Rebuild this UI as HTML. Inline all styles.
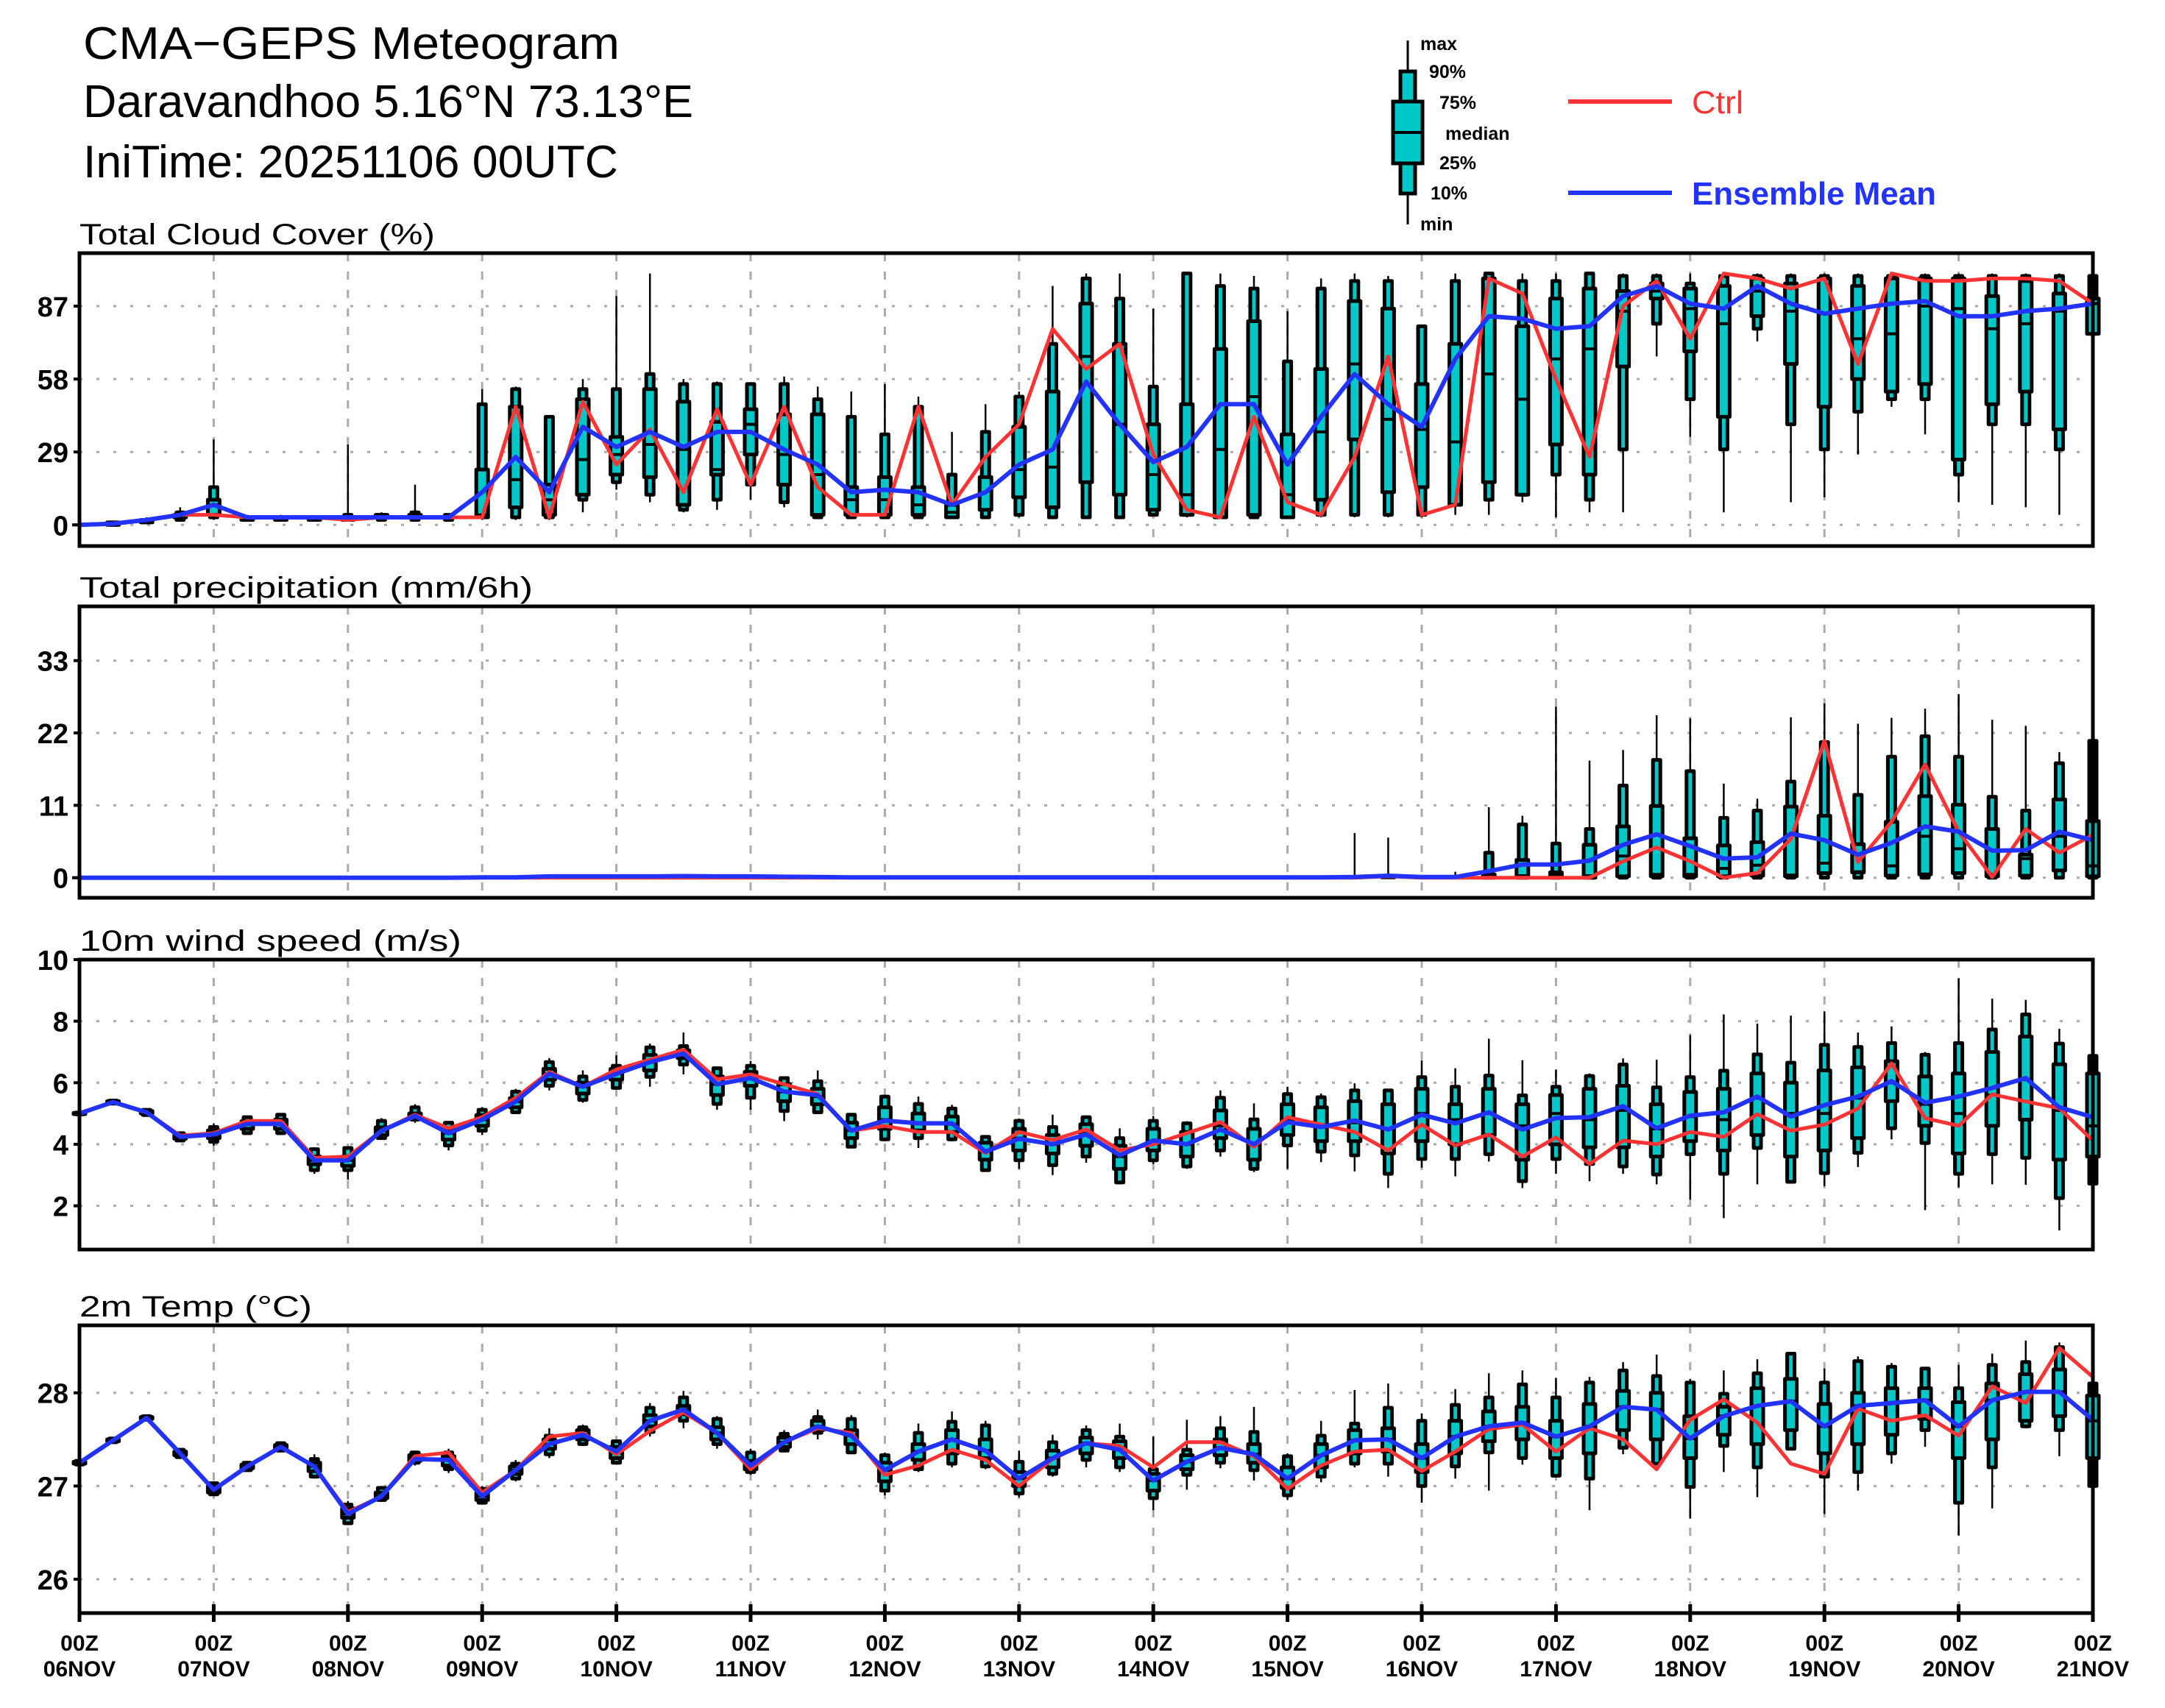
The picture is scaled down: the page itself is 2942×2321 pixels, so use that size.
<!DOCTYPE html>
<html><head><meta charset="utf-8"><title>CMA-GEPS Meteogram</title>
<style>html,body{margin:0;padding:0;background:#fff}svg{display:block}text{font-family:"Liberation Sans",sans-serif}</style>
</head><body>
<svg id="chart" xmlns="http://www.w3.org/2000/svg" width="2942" height="2321" viewBox="0 0 2942 2321">
<rect x="0" y="0" width="2942" height="2321" fill="#fff"/>
<g>
<text x="113" y="80" font-size="62" textLength="729" lengthAdjust="spacingAndGlyphs">CMA−GEPS Meteogram</text>
<text x="113" y="159" font-size="62" textLength="829" lengthAdjust="spacingAndGlyphs">Daravandhoo 5.16°N 73.13°E</text>
<text x="113" y="241" font-size="62" textLength="727" lengthAdjust="spacingAndGlyphs">IniTime: 20251106 00UTC</text>
</g>
<g>
<line x1="1913" y1="55" x2="1913" y2="305" stroke="#000" stroke-width="3"/>
<rect x="1903" y="97" width="20" height="166" fill="#00C8C8" stroke="#000" stroke-width="5"/>
<rect x="1893" y="138" width="40" height="84" fill="#00C8C8" stroke="#000" stroke-width="5"/>
<line x1="1891" y1="180" x2="1935" y2="180" stroke="#000" stroke-width="4"/>
<g font-size="25" font-weight="bold">
<text x="1930" y="68">max</text>
<text x="1942" y="106">90%</text>
<text x="1956" y="148">75%</text>
<text x="1964" y="190">median</text>
<text x="1956" y="230">25%</text>
<text x="1944" y="271">10%</text>
<text x="1930" y="313">min</text>
</g>
<line x1="2131" y1="138" x2="2272" y2="138" stroke="#FF3333" stroke-width="6"/>
<text x="2299" y="154" font-size="44" fill="#FF3333" textLength="70" lengthAdjust="spacingAndGlyphs">Ctrl</text>
<line x1="2131" y1="262" x2="2272" y2="262" stroke="#2233FF" stroke-width="6"/>
<text x="2299" y="278" font-size="44" font-weight="bold" fill="#2233FF" textLength="332" lengthAdjust="spacingAndGlyphs">Ensemble Mean</text>
</g>
<g id="panels"></g>
<g id="xlabels"></g>
</svg>
<script>
const NS = "http://www.w3.org/2000/svg";
const dayLabels = ["06NOV","07NOV","08NOV","09NOV","10NOV","11NOV","12NOV","13NOV","14NOV","15NOV","16NOV","17NOV","18NOV","19NOV","20NOV","21NOV"];
const cloudTicks = [0,29,58,87];
const precipTicks = [0,11,22,33];
const windTicks = [2,4,6,8,10];
const tempTicks = [26,27,28];

// box rows: [min,p10,p25,median,p75,p90,max]
const cloudBox = [
[0,0,0,0,0,0,0.5],[0,0,0,0.5,1,1,1],[1,1,1,1.5,2,2,3],[2,2,3,3,4,5,7],[2,3,4,8,10,15,34],
[2,2,2,3,3,3,4],[2,2,2,3,3,3,4],[2,2,2,2,3,3,3],[2,2,2,3,3,4,32],[2,2,3,3,4,4,5],
[2,2,3,3,4,5,16],[2,2,3,3,3,4,4],[2,3,3,4,22,48,54],[2,3,7,18,47,54,55],[2,3,4,10,16,43,43],
[5,10,12,26,50,54,58],[14,17,20,28,35,54,91],[9,12,19,32,54,60,100],[5,6,8,30,49,56,58],[6,10,20,22,41,56,57],
[10,16,28,40,46,56,56],[7,9,16,28,44,56,59],[3,3,4,20,44,50,55],[3,3,4,10,15,43,53],[3,3,4,10,19,36,56],
[3,3,4,8,15,47,51],[3,3,3,5,8,20,37],[3,3,6,6,19,37,48],[3,4,11,22,39,51,53],[3,3,7,23,53,72,95],
[3,3,17,67,88,98,100],[3,3,12,40,72,90,100],[4,4,6,20,40,55,86],[3,4,4,12,48,100,100],[3,3,3,30,70,95,100],
[3,3,4,51,81,94,99],[3,3,3,12,36,65,85],[3,4,10,37,62,94,98],[3,4,34,64,89,97,100],[3,4,13,42,86,97,99],
[3,4,15,38,56,79,79],[4,8,8,33,72,97,100],[4,10,17,60,98,100,100],[9,12,12,50,79,97,100],[3,20,32,66,90,97,100],
[5,10,20,70,94,100,100],[5,30,63,85,93,99,100],[67,80,90,93,96,99,100],[35,50,69,86,94,96,100],[5,30,43,80,95,99,100],
[73,78,83,93,98,99,100],[9,40,64,85,96,99,100],[11,30,47,84,98,99,100],[28,45,58,74,95,99,100],[47,50,53,76,98,99,100],
[36,50,56,87,98,99,100],[9,20,26,86,98,99,100],[8,40,48,78,91,99,100],[7,40,53,80,97,99,100],[4,30,38,85,92,99,100],
[70,76,76,88,90,99,100]];
const cloudCtrl = [0,0.5,2,4,4,3,3,3,2,3,3,3,3,47,3,49,24,38,13,46,16,47,15,4,4,47,8,27,40,78,62,72,28,6,3,43,9,4,27,67,4,8,98,92,58,27,87,97,74,100,98,94,98,64,100,97,97,98,98,97,88];
const cloudMean = [0,0.5,2,4,8,3,3,3,3,3,3,3,13,27,13,39,31,37,31,37,37,30,24,13,14,13,8,13,24,30,57,40,25,31,48,48,24,43,60,48,39,66,83,82,78,79,91,95,88,86,95,88,84,86,88,89,83,83,85,86,88];

const Z = [0,0,0,0,0,0,0];
const precipBox = [
Z,Z,Z,Z,Z,Z,Z,Z,Z,Z,Z,Z,Z,Z,Z,Z,Z,Z,Z,Z,Z,Z,Z,Z,Z,Z,Z,Z,Z,Z,Z,Z,Z,Z,Z,Z,Z,Z,
[0,0,0,0,0,0,6.8],[0,0,0,0,0,0,6.1],[0,0,0,0,0,0,0],[0,0,0,0,0,0,0.9],[0,0,0,0,0.5,3.8,10.7],
[0,0,0,0.3,2.7,8.1,9.4],[0,0,0,0.3,0.8,5.2,26],[0,0,0,0.3,5.0,7.4,17.8],[0,0,0.2,3.3,7.8,14,19.4],[0,0,0.2,0.5,10.9,17.9,24.7],
[0,0,0.2,0.5,6.0,16.2,24.2],[0,0,0.2,1.4,4.9,9.1,14.3],[0,0,0.3,1.9,5.4,10.2,12],[0,0,0.2,0.4,10.8,14.6,24.4],[0,0,0.7,2.2,9.4,20.6,26.5],
[0,0,0.8,0.9,5.1,12.6,23.4],[0,0,0.3,1.8,8.5,18.4,24.3],[0,0,0.5,6.3,12.4,21.5,25.7],[0,0,0.7,4.4,11.1,18.4,27.9],[0,0,0.2,0.5,7.4,12.3,24],
[0,0,0.3,2.9,3.5,10.2,23.1],[0,0,1.1,6.3,11.9,17.4,19.1],[0,0,0.2,1.8,8.6,20.8,20.8]];
const precipCtrl = [0,0,0,0,0,0,0,0,0,0,0,0,0,0,0,0,0,0,0,0,0,0,0,0,0,0,0,0,0,0,0,0,0,0,0,0,0,0,0,0.2,0,0,0,0,0,0,2.5,4.6,2.5,0,0.7,5.9,20.8,2.4,8.5,17.2,7,0.1,7.4,3.8,6.5];
const precipMean = [0,0,0,0,0,0,0,0,0,0,0,0,0.05,0.05,0.2,0.2,0.2,0.2,0.25,0.2,0.2,0.15,0.1,0.05,0.05,0.05,0.05,0.05,0.05,0.05,0.05,0.05,0.05,0.05,0.05,0.05,0.05,0.05,0.1,0.3,0.1,0.1,1.0,2.0,2.0,2.6,5.0,6.6,4.8,2.9,3.1,6.7,5.7,3.5,5.3,7.8,7,4.1,4.2,7,5.7];

const windBox = [
[4.95,4.97,4.98,5.0,5.02,5.03,5.05],[5.3,5.32,5.34,5.37,5.4,5.42,5.45],[4.9,4.95,5.0,5.04,5.08,5.12,5.15],[4.1,4.12,4.18,4.24,4.3,4.36,4.4],[3.96,4.08,4.2,4.32,4.45,4.56,4.68],
[4.35,4.36,4.5,4.66,4.75,4.88,4.9],[4.3,4.36,4.5,4.66,4.8,4.96,5.0],[3.04,3.16,3.35,3.48,3.6,3.84,3.9],[2.85,3.16,3.3,3.48,3.6,3.88,3.9],[4.15,4.2,4.3,4.44,4.55,4.76,4.85],
[4.7,4.8,4.85,4.92,5.0,5.2,5.3],[3.8,3.96,4.15,4.36,4.5,4.7,4.75],[4.3,4.44,4.6,4.8,4.95,5.12,5.2],[5.0,5.04,5.2,5.39,5.5,5.71,5.8],[5.75,5.9,6.1,6.29,6.45,6.67,6.8],
[5.35,5.44,5.65,5.87,6.0,6.2,6.4],[5.8,5.83,6.1,6.3,6.45,6.55,6.89],[5.87,6.19,6.4,6.67,6.9,7.15,7.27],[6.27,6.59,6.8,6.95,7.05,7.19,7.63],[5.12,5.31,5.6,5.95,6.2,6.47,6.5],
[5.12,5.51,5.9,6.15,6.35,6.55,6.71],[4.75,5.08,5.4,5.7,5.95,6.15,6.2],[5.0,5.04,5.3,5.55,5.8,6.05,6.4],[3.9,3.92,4.2,4.45,4.7,4.96,5.0],[4.1,4.16,4.5,4.8,5.2,5.55,5.6],
[3.88,4.2,4.45,4.7,5.0,5.31,5.55],[4.1,4.16,4.4,4.65,4.9,5.16,5.28],[3.1,3.16,3.5,3.8,4.05,4.24,4.3],[3.2,3.48,3.8,4.2,4.5,4.76,4.84],[3.0,3.32,3.7,4.0,4.3,4.56,4.96],
[3.4,3.6,3.95,4.35,4.65,4.88,4.9],[2.7,2.76,3.2,3.6,3.95,4.2,4.52],[3.36,3.48,3.8,4.1,4.5,4.76,4.92],[3.2,3.28,3.6,4.0,4.4,4.68,4.75],[3.6,3.8,4.2,4.6,5.1,5.51,5.75],
[3.1,3.2,3.5,4.0,4.5,4.81,5.33],[3.2,3.96,4.3,4.8,5.3,5.63,5.87],[3.42,3.76,4.1,4.6,5.2,5.53,5.65],[3.12,3.64,4.1,4.7,5.4,5.75,5.98],[2.58,3.04,3.7,4.5,5.3,5.75,5.8],
[3.24,3.52,4.1,5.0,5.8,6.18,6.73],[2.96,3.52,4.0,4.8,5.3,5.87,6.47],[3.44,3.68,4.3,5.0,5.8,6.23,7.43],[2.58,2.8,3.5,4.6,5.3,5.59,6.73],[3.04,3.52,4.0,5.0,5.6,5.87,6.43],
[2.8,3.36,3.9,4.8,5.8,6.22,6.3],[3.04,3.28,3.9,5.1,5.9,6.59,6.79],[2.7,3.02,3.6,4.5,5.3,5.85,6.75],[2.2,3.68,4.1,4.9,5.7,6.18,7.55],[1.6,3.04,3.8,4.8,5.8,6.39,8.22],
[2.7,3.88,4.3,5.5,6.3,6.92,7.92],[2.74,2.78,3.6,5.0,6.0,6.65,8.18],[2.64,3.06,3.8,5.0,6.4,7.23,8.32],[3.26,3.72,4.2,5.5,6.5,7.16,7.63],[4.16,4.52,5.4,6.0,6.7,7.29,7.83],
[1.86,4.04,4.6,5.3,6.2,6.91,7.0],[2.6,3.04,3.7,5.0,6.3,7.29,9.39],[2.7,3.68,4.6,5.6,7.0,7.73,8.73],[2.68,3.56,4.8,6.1,7.5,8.22,8.69],[1.2,2.25,3.5,5.1,6.6,7.27,7.75],
[2.7,2.72,3.6,4.6,6.3,6.87,6.9]];
const windCtrl = [5.0,5.37,5.04,4.28,4.36,4.76,4.76,3.56,3.6,4.44,4.96,4.52,4.88,5.51,6.35,5.87,6.43,6.75,7.07,6.11,6.27,5.95,5.63,4.44,4.6,4.4,4.4,3.72,4.4,4.14,4.48,3.8,4.0,4.36,4.72,3.92,4.88,4.64,4.4,3.8,4.64,3.96,4.32,3.6,4.22,3.36,4.12,4.0,4.4,4.24,4.98,4.44,4.64,5.16,6.63,4.85,4.6,5.62,5.39,5.17,4.12];
const windMean = [5.0,5.37,5.04,4.24,4.32,4.66,4.66,3.48,3.48,4.44,4.92,4.36,4.8,5.39,6.29,5.87,6.29,6.67,6.95,5.95,6.15,5.71,5.59,4.44,4.77,4.68,4.68,3.76,4.18,4.0,4.32,3.64,4.12,4.0,4.48,4.0,4.72,4.56,4.77,4.48,4.96,4.68,5.04,4.48,4.85,4.88,5.24,4.52,4.93,5.04,5.55,4.9,5.27,5.55,6.05,5.35,5.55,5.83,6.15,5.2,4.88];

const tempBox = [
[27.22,27.23,27.24,27.25,27.26,27.27,27.28],[27.46,27.47,27.48,27.49,27.5,27.51,27.52],[27.7,27.71,27.72,27.73,27.74,27.75,27.76],[27.3,27.31,27.33,27.35,27.37,27.39,27.4],[26.9,26.91,26.93,26.96,27.0,27.03,27.05],
[27.16,27.17,27.19,27.21,27.23,27.25,27.27],[27.37,27.38,27.4,27.42,27.44,27.46,27.48],[27.08,27.1,27.16,27.21,27.25,27.29,27.34],[26.58,26.6,26.66,26.7,26.76,26.8,26.84],[26.83,26.85,26.87,26.89,26.93,26.98,27.0],
[27.22,27.25,27.27,27.3,27.33,27.36,27.38],[27.14,27.18,27.22,27.28,27.32,27.36,27.4],[26.8,26.82,26.85,26.89,26.93,26.97,27.0],[27.05,27.08,27.13,27.17,27.21,27.24,27.28],[27.3,27.34,27.4,27.45,27.5,27.54,27.62],
[27.43,27.45,27.5,27.55,27.6,27.63,27.66],[27.23,27.25,27.3,27.37,27.42,27.48,27.5],[27.53,27.58,27.64,27.7,27.76,27.84,27.89],[27.62,27.7,27.77,27.82,27.86,27.95,28.02],[27.4,27.45,27.5,27.57,27.63,27.72,27.75],
[27.12,27.15,27.18,27.22,27.27,27.36,27.4],[27.37,27.38,27.42,27.47,27.52,27.56,27.6],[27.5,27.57,27.6,27.64,27.7,27.74,27.82],[27.35,27.36,27.45,27.54,27.6,27.72,27.76],[26.9,26.95,27.05,27.17,27.25,27.33,27.36],
[27.15,27.18,27.28,27.37,27.45,27.57,27.67],[27.2,27.24,27.35,27.5,27.6,27.69,27.8],[27.18,27.21,27.3,27.38,27.5,27.65,27.7],[26.88,26.92,27.0,27.08,27.15,27.26,27.38],[27.1,27.13,27.2,27.3,27.38,27.47,27.55],
[27.2,27.28,27.35,27.46,27.52,27.6,27.65],[27.15,27.2,27.3,27.39,27.48,27.53,27.67],[26.74,26.87,26.95,27.06,27.13,27.18,27.53],[26.96,27.12,27.18,27.26,27.33,27.39,27.71],[27.19,27.25,27.33,27.41,27.5,27.62,27.75],
[27.06,27.17,27.25,27.34,27.45,27.58,27.85],[26.85,26.9,26.98,27.08,27.2,27.32,27.35],[27.04,27.1,27.2,27.33,27.45,27.54,27.7],[27.2,27.24,27.35,27.49,27.6,27.67,28.03],[27.1,27.24,27.37,27.5,27.62,27.84,28.1],
[26.82,27.0,27.15,27.3,27.45,27.7,27.78],[27.08,27.21,27.35,27.53,27.7,27.87,28.04],[26.95,27.36,27.48,27.64,27.8,27.95,28.21],[27.23,27.3,27.5,27.68,27.85,28.09,28.24],[27.1,27.11,27.3,27.53,27.7,27.95,28.16],
[26.74,27.08,27.35,27.64,27.88,28.11,28.17],[27.34,27.41,27.6,27.85,28.02,28.24,28.33],[27.24,27.24,27.5,27.82,28.0,28.18,28.41],[26.65,26.99,27.3,27.51,27.75,28.11,28.15],[27.15,27.43,27.55,27.75,27.85,27.99,28.24],
[26.88,27.2,27.45,27.86,28.05,28.21,28.36],[27.4,27.4,27.6,27.91,28.15,28.42,28.42],[26.7,27.1,27.35,27.64,27.88,28.11,28.26],[26.95,27.15,27.45,27.86,28.0,28.34,28.39],[27.24,27.35,27.55,27.89,28.05,28.28,28.32],
[27.42,27.6,27.72,27.92,28.05,28.26,28.26],[26.47,26.82,27.3,27.64,27.9,28.05,28.3],[26.76,27.2,27.5,27.92,28.1,28.3,28.42],[27.62,27.64,27.7,28.01,28.2,28.33,28.56],[27.32,27.6,27.75,28.01,28.25,28.49,28.54],
[27.0,27.0,27.3,27.7,27.97,28.1,28.15]];
const tempCtrl = [27.25,27.49,27.73,27.35,26.96,27.21,27.42,27.21,26.72,26.89,27.32,27.36,26.93,27.17,27.53,27.57,27.34,27.59,27.79,27.57,27.18,27.47,27.62,27.57,27.12,27.22,27.39,27.28,27.0,27.29,27.46,27.43,27.2,27.47,27.47,27.32,26.97,27.22,27.37,27.39,27.16,27.37,27.61,27.66,27.37,27.62,27.5,27.18,27.71,27.93,27.68,27.24,27.13,27.83,27.7,27.76,27.54,28.07,27.89,28.48,28.17];
const tempMean = [27.25,27.49,27.73,27.35,26.96,27.21,27.42,27.21,26.7,26.89,27.29,27.28,26.89,27.17,27.45,27.55,27.37,27.7,27.82,27.57,27.22,27.47,27.64,27.54,27.17,27.37,27.5,27.38,27.08,27.3,27.46,27.39,27.06,27.26,27.41,27.34,27.08,27.33,27.49,27.5,27.3,27.53,27.64,27.68,27.53,27.64,27.85,27.82,27.51,27.75,27.86,27.91,27.64,27.86,27.89,27.92,27.64,27.92,28.01,28.01,27.71];

// layout (geometry, not data)
const X0 = 108, X1 = 2844, NSTEP = 60;
function xAt(i){ return X0 + (X1 - X0) * i / NSTEP; }
const panels = [
 {key:'cloud', title:'Total Cloud Cover (%)', titleW:483, top:344, bottom:742, refV0:0, refY0:713.3, refV1:87, refY1:416, ticks:cloudTicks, box:cloudBox, ctrl:cloudCtrl, mean:cloudMean},
 {key:'precip', title:'Total precipitation (mm/6h)', titleW:616, top:824, bottom:1220, refV0:0, refY0:1192.7, refV1:33, refY1:897.7, ticks:precipTicks, box:precipBox, ctrl:precipCtrl, mean:precipMean},
 {key:'wind', title:'10m wind speed (m/s)', titleW:519, top:1304, bottom:1698, refV0:2, refY0:1638.6, refV1:10, refY1:1304, ticks:windTicks, box:windBox, ctrl:windCtrl, mean:windMean},
 {key:'temp', title:'2m Temp (°C)', titleW:316, top:1801, bottom:2192, refV0:26, refY0:2146, refV1:28, refY1:1892.7, ticks:tempTicks, box:tempBox, ctrl:tempCtrl, mean:tempMean}
];

function mk(tag, attrs, parent){
  const e = document.createElementNS(NS, tag);
  for (const k in attrs) e.setAttribute(k, attrs[k]);
  if (parent) parent.appendChild(e);
  return e;
}

const root = document.getElementById('panels');
panels.forEach(function(p){
  const yAt = function(v){ return p.refY0 + (v - p.refV0) * (p.refY1 - p.refY0) / (p.refV1 - p.refV0); };
  const g = mk('g', {}, root);
  
  

  const t = mk('text', {x:108, y:p.top-12, 'font-size':40, textLength:p.titleW, lengthAdjust:'spacingAndGlyphs'}, g);
  t.textContent = p.title;
  
  

  // gridlines
  const grid = mk('g', {stroke:'#aaaaaa', 'stroke-width':3}, g);
  
  
  for (let d = 1; d < 15; d++){
    const x = xAt(d*4);
    const vl = mk('line', {x1:x, y1:p.top, x2:x, y2:p.bottom, 'stroke-dasharray':'11 14'}, grid);
    
    
  }
  p.ticks.forEach(function(v){
    const y = yAt(v);
    if (y > p.top + 3 && y < p.bottom - 3){
      const hl = mk('line', {x1:X0, y1:y, x2:X1, y2:y, 'stroke-dasharray':'4 19'}, grid);
      
      
    }
    const tk = mk('line', {x1:X0-8, y1:y, x2:X0, y2:y, stroke:'#000', 'stroke-width':4}, g);
    
    
    const lb = mk('text', {x:93, y:y+14, 'font-size':38, 'font-weight':'bold', 'text-anchor':'end'}, g);
    lb.textContent = String(v);
    
    
  });

  // boxes
  const bg = mk('g', {}, g);
  
  
  p.box.forEach(function(b, i){
    const x = xAt(i);
    const bx = mk('g', {}, bg);
    
    
    mk('line', {x1:x, y1:yAt(b[0]), x2:x, y2:yAt(b[6]), stroke:'#000', 'stroke-width':2.5}, bx);
    const y10 = yAt(b[1]), y90 = yAt(b[5]);
    mk('rect', {x:x-5, y:Math.min(y10,y90), width:10, height:Math.abs(y10-y90), fill:'#00C8C8', stroke:'#000', 'stroke-width':5, 'stroke-linejoin':'round'}, bx);
    const y25 = yAt(b[2]), y75 = yAt(b[4]);
    mk('rect', {x:x-8, y:Math.min(y25,y75), width:16, height:Math.abs(y25-y75), fill:'#00C8C8', stroke:'#000', 'stroke-width':5, 'stroke-linejoin':'round'}, bx);
    mk('line', {x1:x-10, y1:yAt(b[3]), x2:x+10, y2:yAt(b[3]), stroke:'#000', 'stroke-width':4}, bx);
  });

  // lines
  const ctrlPts = p.ctrl.map(function(v,i){ return xAt(i).toFixed(1)+','+yAt(v).toFixed(1); }).join(' ');
  const cl = mk('polyline', {points:ctrlPts, fill:'none', stroke:'#FF3333', 'stroke-width':5, 'stroke-linejoin':'round'}, g);
  
  
  const meanPts = p.mean.map(function(v,i){ return xAt(i).toFixed(1)+','+yAt(v).toFixed(1); }).join(' ');
  const ml = mk('polyline', {points:meanPts, fill:'none', stroke:'#2233FF', 'stroke-width':6, 'stroke-linejoin':'round'}, g);
  
  

  const fr = mk('rect', {x:X0, y:p.top, width:X1-X0, height:p.bottom-p.top, fill:'none', stroke:'#000', 'stroke-width':5}, g);
  
  
});

// bottom x-axis ticks & labels
const xl = document.getElementById('xlabels');
dayLabels.forEach(function(lab, d){
  const x = xAt(d*4);
  const tk = mk('line', {x1:x, y1:2180, x2:x, y2:2204, stroke:'#000', 'stroke-width':5}, xl);
  
  
  const t1 = mk('text', {x:x, y:2243, 'font-size':30, 'font-weight':'bold', 'text-anchor':'middle'}, xl);
  t1.textContent = '00Z';
  
  
  const t2 = mk('text', {x:x, y:2278, 'font-size':30, 'font-weight':'bold', 'text-anchor':'middle'}, xl);
  t2.textContent = lab;
  
  
});
</script>
</body></html>
